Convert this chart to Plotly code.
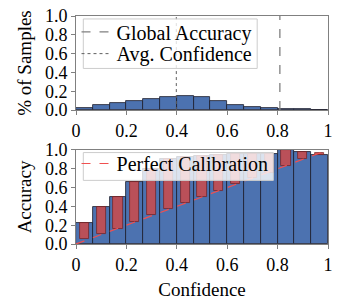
import numpy as np
import plotly.graph_objects as go
from plotly.subplots import make_subplots

n_bins = 15
sample_frac = [0.018, 0.056, 0.08, 0.098, 0.12, 0.14, 0.15, 0.137, 0.098, 0.056, 0.035, 0.02, 0.014, 0.01, 0.004]
bin_accuracy = [0.228, 0.393, 0.505, 0.66, 0.80, 0.90, 0.93, 0.94, 0.95, 0.96, 0.96, 0.96, 1.0, 0.98, 0.95]
bin_confidence = [0.056, 0.105, 0.165, 0.239, 0.305, 0.368, 0.439, 0.502, 0.565, 0.635, 0.70, 0.76, 0.835, 0.90, 0.967]
global_accuracy = 0.809
avg_confidence = 0.398
x_tickvals = [0, 0.2, 0.4, 0.6, 0.8, 1]
x_ticktext = ["0", "0.2", "0.4", "0.6", "0.8", "1"]
y_tickvals = [0, 0.2, 0.4, 0.6, 0.8, 1.0]
y_ticktext = ["0.0", "0.2", "0.4", "0.6", "0.8", "1.0"]

edges = np.linspace(0, 1, n_bins + 1)
centers = (edges[:-1] + edges[1:]) / 2
bw = 1.0 / n_bins
gap = np.array(bin_accuracy) - np.array(bin_confidence)

BLUE = "#4C72B0"
RED = "#C44E52"
FONT = "Liberation Serif"
FS = 18
FS_TITLE = 19
FS_LEG = 20

fig = make_subplots(rows=2, cols=1, vertical_spacing=0.175)

fig.add_trace(go.Bar(x=centers, y=sample_frac, width=bw, marker=dict(color=BLUE, line=dict(color="#1a1a2a", width=0.8)),
                     showlegend=False), row=1, col=1)
fig.add_trace(go.Scatter(x=[global_accuracy, global_accuracy], y=[0, 1], mode="lines",
                         line=dict(color="#808080", dash="dash", width=1.3), name="Global Accuracy", legend="legend"), row=1, col=1)
fig.add_trace(go.Scatter(x=[avg_confidence, avg_confidence], y=[0, 1], mode="lines",
                         line=dict(color="#606060", dash="dot", width=1), name="Avg. Confidence", legend="legend3"), row=1, col=1)

fig.add_trace(go.Bar(x=centers, y=bin_accuracy, width=bw, marker=dict(color=BLUE, line=dict(color="#1a1a2a", width=0.8)),
                     showlegend=False), row=2, col=1)
fig.add_trace(go.Bar(x=centers, y=gap, base=bin_confidence, width=bw * 0.55,
                     marker=dict(color=RED, line=dict(color="#7a2020", width=0.8)), opacity=0.92,
                     showlegend=False), row=2, col=1)
fig.add_trace(go.Scatter(x=[0, 1], y=[0, 1], mode="lines", line=dict(color="#f05050", dash="dash", width=1.2),
                         name="Perfect Calibration", legend="legend2"), row=2, col=1)

axis_common = dict(showline=True, linecolor="#808080", linewidth=1, mirror=True, ticks="outside", ticklen=4,
                   tickcolor="#808080", showgrid=False, zeroline=False, automargin=False,
                   ticklabeloverflow="allow",
                   tickfont=dict(family=FONT, size=FS, color="black"))
for r in (1, 2):
    fig.update_xaxes(range=[0, 1], tickvals=x_tickvals, ticktext=x_ticktext, row=r, col=1, **axis_common)
    fig.update_yaxes(range=[0, 1], tickvals=y_tickvals, ticktext=y_ticktext, row=r, col=1, **axis_common)

fig.update_yaxes(title=dict(text="% of Samples", font=dict(family=FONT, size=FS_TITLE, color="black"), standoff=8), row=1, col=1)
fig.update_yaxes(title=dict(text="Accuracy", font=dict(family=FONT, size=FS_TITLE, color="black"), standoff=8), row=2, col=1)
fig.update_xaxes(title=dict(text="Confidence", font=dict(family=FONT, size=FS_TITLE, color="black"), standoff=9), row=2, col=1)

# legend frames (semi-transparent boxes like matplotlib's legend frame)
frame = dict(type="rect", xref="paper", yref="paper", layer="above",
             fillcolor="rgba(255,255,255,0.8)", line=dict(color="#cccccc", width=1))
fig.add_shape(x0=0.029, x1=0.719, y0=0.770, y1=0.987, **frame)
fig.add_shape(x0=0.029, x1=0.783, y0=0.279, y1=0.401, **frame)

legend_common = dict(bgcolor="rgba(0,0,0,0)", borderwidth=0,
                     font=dict(family=FONT, size=FS_LEG, color="black"), xanchor="left", yanchor="middle",
                     itemwidth=30)
fig.update_layout(
    width=340, height=305, margin=dict(l=76, r=12, t=14, b=61),
    plot_bgcolor="white", paper_bgcolor="white", barmode="overlay", bargap=0,
    font=dict(family=FONT, size=FS, color="black"),
    legend=dict(x=0.002, y=0.9305, **legend_common),
    legend3=dict(x=0.002, y=0.835, **legend_common),
    legend2=dict(x=0.002, y=0.353, **legend_common),
)

fig.write_html("out.html", config={"displayModeBar": False},
               post_script="document.body.style.margin='0';document.body.style.padding='0';")
